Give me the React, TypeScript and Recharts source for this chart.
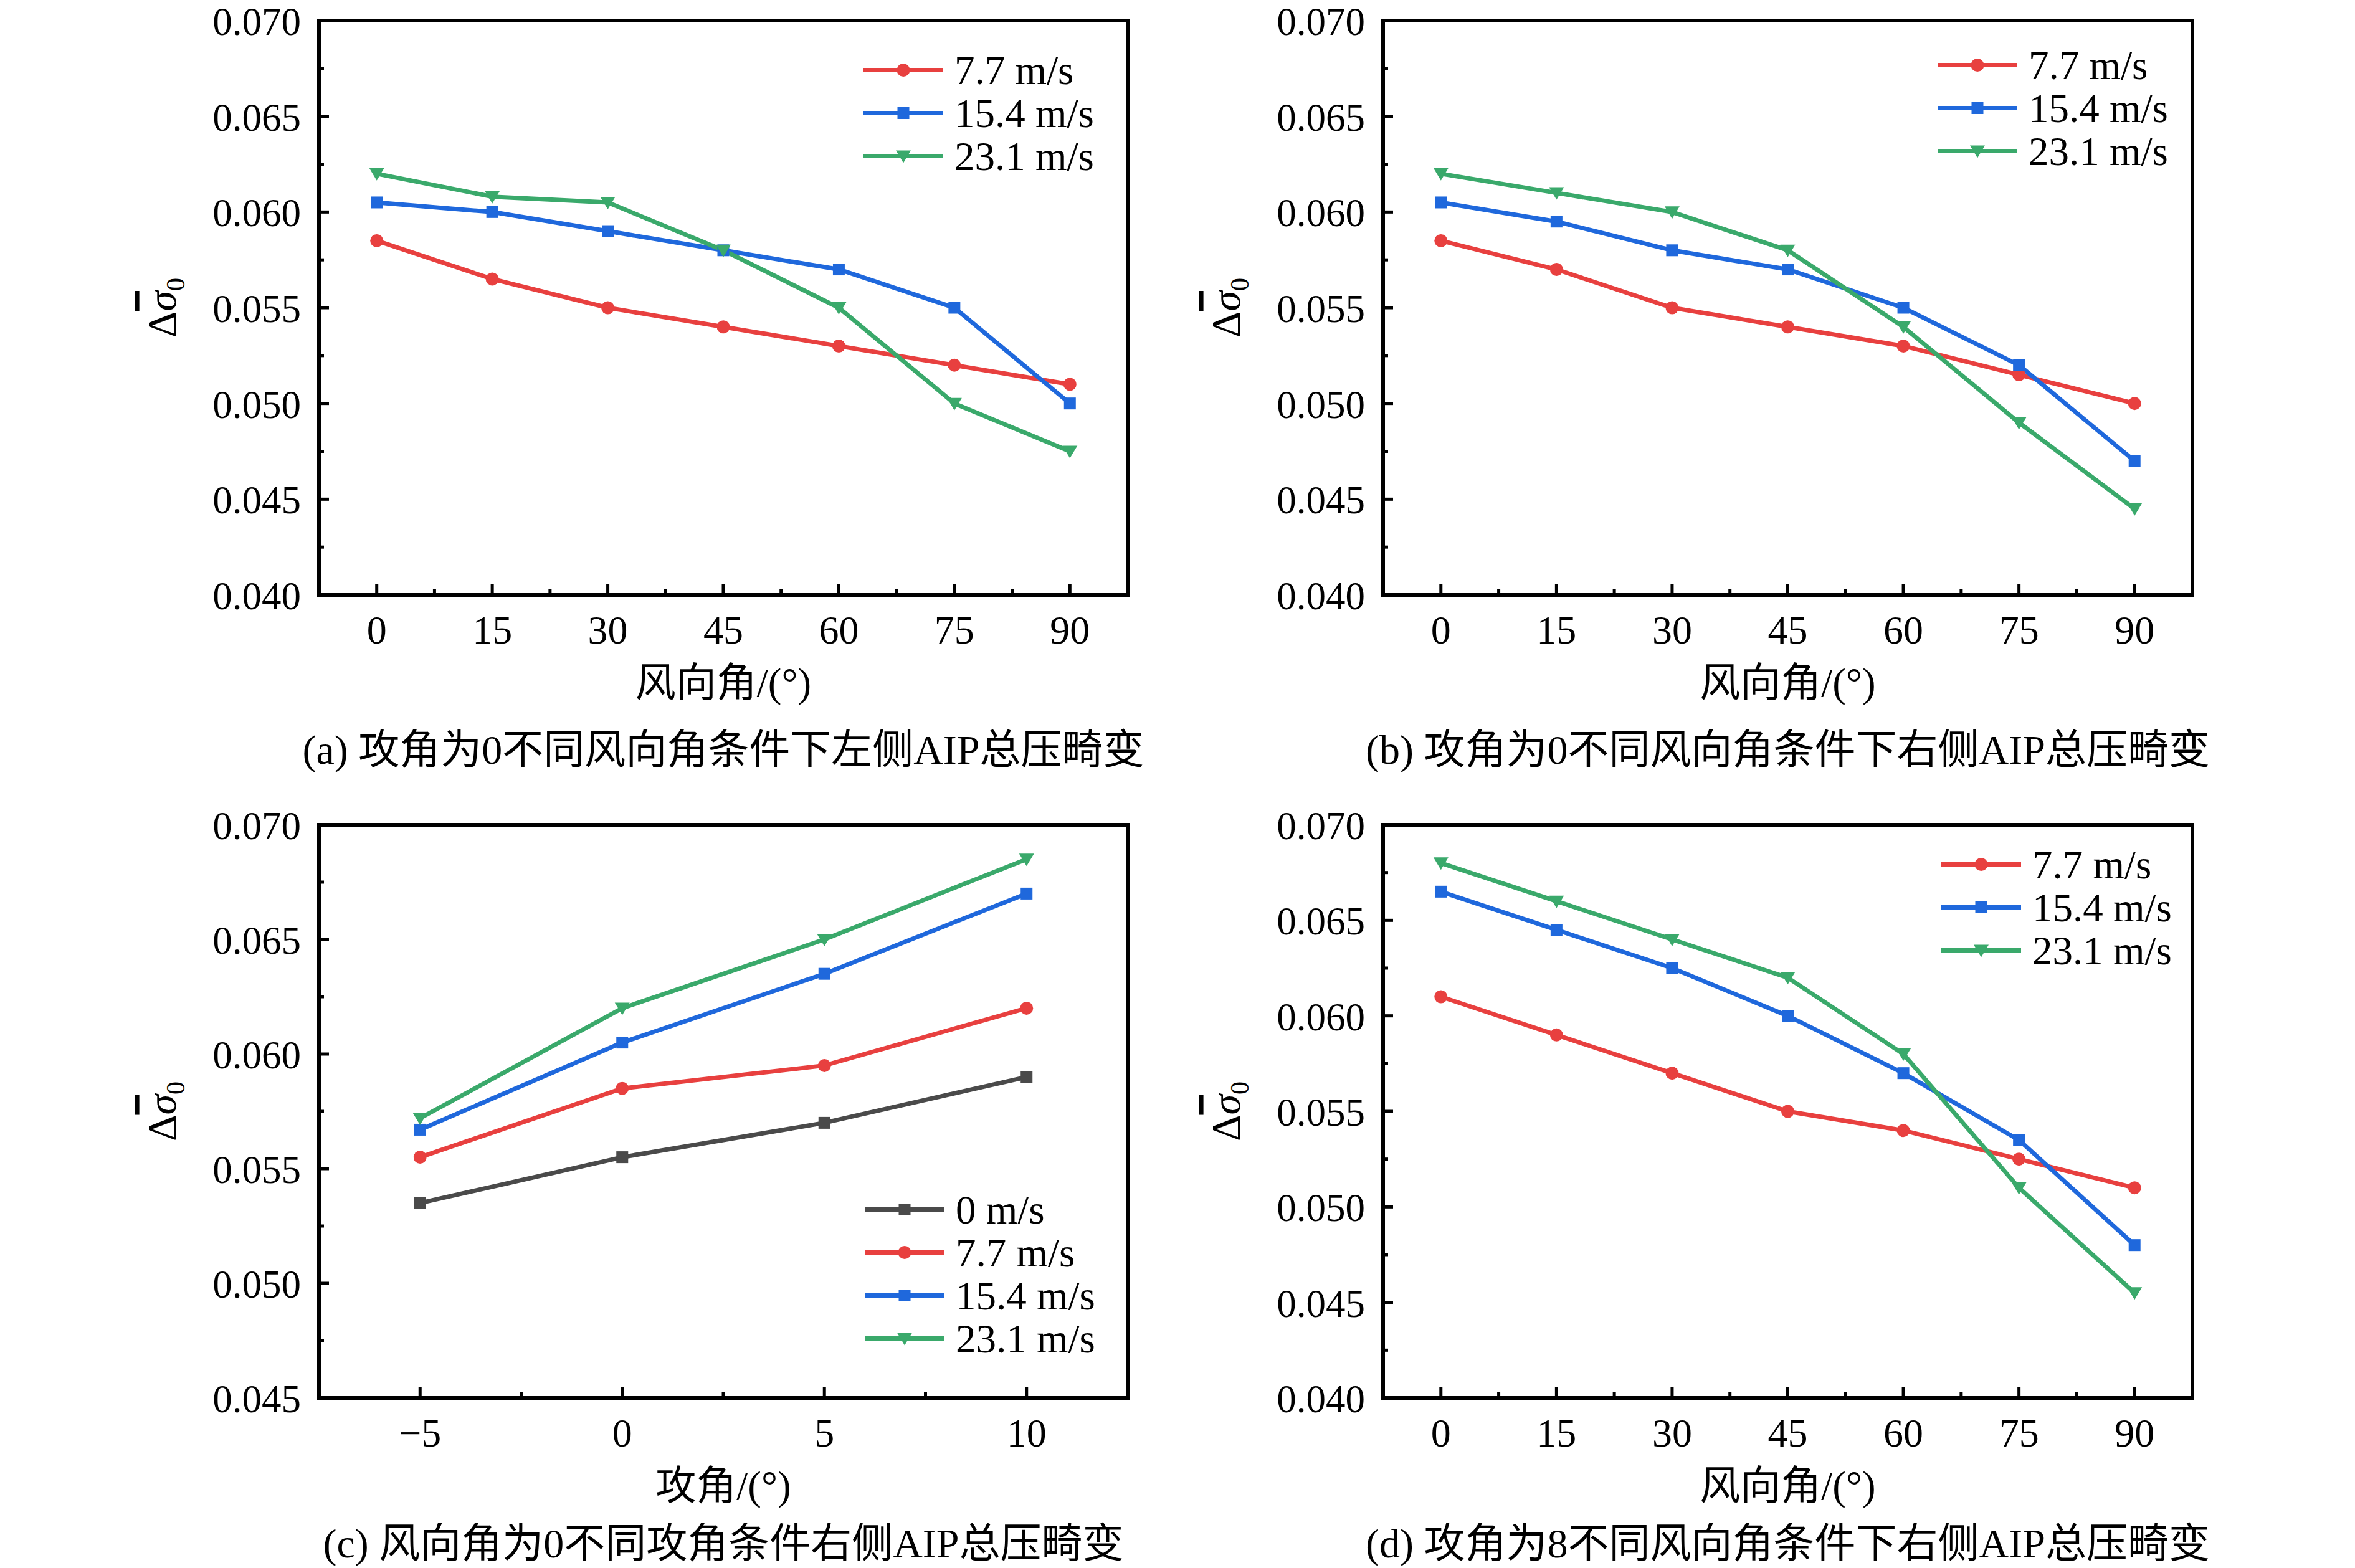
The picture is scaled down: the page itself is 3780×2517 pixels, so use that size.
import React from "react";
import { LineChart, Line, XAxis, YAxis, ReferenceArea, Legend } from "recharts";

// x categories
const windAngles = [0, 15, 30, 45, 60, 75, 90];
const attackAngles = [-5, 0, 5, 10];

// (a) attack angle 0, left AIP
const aV77 = [0.0585, 0.0565, 0.055, 0.054, 0.053, 0.052, 0.051];
const aV154 = [0.0605, 0.06, 0.059, 0.058, 0.057, 0.055, 0.05];
const aV231 = [0.062, 0.0608, 0.0605, 0.058, 0.055, 0.05, 0.0475];

// (b) attack angle 0, right AIP
const bV77 = [0.0585, 0.057, 0.055, 0.054, 0.053, 0.0515, 0.05];
const bV154 = [0.0605, 0.0595, 0.058, 0.057, 0.055, 0.052, 0.047];
const bV231 = [0.062, 0.061, 0.06, 0.058, 0.054, 0.049, 0.0445];

// (c) wind angle 0, right AIP, vs attack angle
const cV0 = [0.0535, 0.0555, 0.057, 0.059];
const cV77 = [0.0555, 0.0585, 0.0595, 0.062];
const cV154 = [0.0567, 0.0605, 0.0635, 0.067];
const cV231 = [0.0572, 0.062, 0.065, 0.0685];

// (d) attack angle 8, right AIP
const dV77 = [0.061, 0.059, 0.057, 0.055, 0.054, 0.0525, 0.051];
const dV154 = [0.0665, 0.0645, 0.0625, 0.06, 0.057, 0.0535, 0.048];
const dV231 = [0.068, 0.066, 0.064, 0.062, 0.058, 0.051, 0.0455];

// ticks
const windMajor = [0, 15, 30, 45, 60, 75, 90];
const windMinor = [7.5, 22.5, 37.5, 52.5, 67.5, 82.5];
const attackMajor = [-5, 0, 5, 10];
const attackMinor = [-2.5, 2.5, 7.5];
const yMajor40 = [0.04, 0.045, 0.05, 0.055, 0.06, 0.065, 0.07];
const yMajor45 = [0.045, 0.05, 0.055, 0.06, 0.065, 0.07];
const yMinor40 = [0.0425, 0.0475, 0.0525, 0.0575, 0.0625, 0.0675];
const yMinor45 = [0.0475, 0.0525, 0.0575, 0.0625, 0.0675];

const seriesNames = ["0 m/s", "7.7 m/s", "15.4 m/s", "23.1 m/s"];

const RED = "#e8403f";
const BLUE = "#1f68dc";
const GREEN = "#3aa96b";
const GRAY = "#4a4a4a";

const FONT = "'Liberation Serif', 'Times New Roman', 'Noto Sans CJK SC', serif";
const Y_AXIS_W = 100;
const X_AXIS_H = 100;
const Y_TICK_MARGIN = 29;
const X_TICK_MARGIN = 40;
const ROW = 69;
const LINE_W = 7;

type Shape = "circle" | "square" | "triangle";
type Series = { key: string; name: string; color: string; shape: Shape };

const windSeries: Series[] = [
  { key: "s77", name: seriesNames[1], color: RED, shape: "circle" },
  { key: "s154", name: seriesNames[2], color: BLUE, shape: "square" },
  { key: "s231", name: seriesNames[3], color: GREEN, shape: "triangle" },
];
const attackSeries: Series[] = [
  { key: "s0", name: seriesNames[0], color: GRAY, shape: "square" },
  ...windSeries,
];

const windData = (v77: number[], v154: number[], v231: number[]) =>
  windAngles.map((x, i) => ({ x, s77: v77[i], s154: v154[i], s231: v231[i] }));

const dataA = windData(aV77, aV154, aV231);
const dataB = windData(bV77, bV154, bV231);
const dataD = windData(dV77, dV154, dV231);
const dataC = attackAngles.map((x, i) => ({ x, s0: cV0[i], s77: cV77[i], s154: cV154[i], s231: cV231[i] }));

const Marker = ({ shape, cx, cy, color }: { shape: Shape; cx: number; cy: number; color: string }) => {
  if (cx == null || cy == null) return null;
  if (shape === "circle") return <circle cx={cx} cy={cy} r={10.5} fill={color} />;
  if (shape === "triangle")
    return <polygon points={`${cx - 12},${cy - 9} ${cx + 12},${cy - 9} ${cx},${cy + 11}`} fill={color} />;
  return <rect x={cx - 9.5} y={cy - 9.5} width={19} height={19} fill={color} />;
};

const isIn = (arr: number[], v: number) => arr.some((m) => Math.abs(m - v) < 1e-9);

const fmtX = (v: number) => (v < 0 ? "\u2212" + Math.abs(v) : String(v));

type PanelProps = {
  box: { x: number; y: number; w: number; h: number };
  plot: { l: number; r: number; t: number; b: number };
  data: any[];
  series: Series[];
  xDomain: [number, number];
  xMajor: number[];
  xMinor: number[];
  yDomain: [number, number];
  yMajor: number[];
  yMinor: number[];
  xTitle: string;
  caption: string;
  captionGap: number;
  legendX: number;
  legendY: number;
};

function Panel(p: PanelProps) {
  const { box, plot } = p;
  const margin = {
    left: plot.l - box.x - Y_AXIS_W,
    top: plot.t - box.y,
    right: box.x + box.w - plot.r,
    bottom: box.y + box.h - plot.b - X_AXIS_H,
  };
  const midX = (plot.l + plot.r) / 2 - box.x;
  const midY = (plot.t + plot.b) / 2 - box.y;
  const bottomY = plot.b - box.y;
  const leftX = plot.l - box.x;

  const XTick = (t: any) => {
    const v = t.payload.value;
    const axisY = t.y - X_TICK_MARGIN;
    const major = isIn(p.xMajor, v);
    return (
      <g>
        <line x1={t.x} x2={t.x} y1={axisY} y2={axisY - (major ? 18 : 9)} stroke="#000" strokeWidth={5} />
        {major && (
          <text x={t.x} y={axisY + 56} textAnchor="middle" dominantBaseline="central" fontSize={64} fontFamily={FONT} fill="#000">
            {fmtX(v)}
          </text>
        )}
      </g>
    );
  };

  const YTick = (t: any) => {
    const v = t.payload.value;
    const axisX = t.x + Y_TICK_MARGIN;
    const major = isIn(p.yMajor, v);
    return (
      <g>
        <line x1={axisX} x2={axisX + (major ? 16 : 8)} y1={t.y} y2={t.y} stroke="#000" strokeWidth={5} />
        {major && (
          <text x={t.x} y={t.y + 23} textAnchor="end" fontSize={63} fontFamily={FONT} fill="#000">
            {v.toFixed(3)}
          </text>
        )}
      </g>
    );
  };

  const legendContent = () => (
    <svg width={440} height={p.series.length * ROW} style={{ display: "block", overflow: "visible" }}>
      {p.series.map((s, i) => {
        const y = ROW / 2 + i * ROW;
        return (
          <g key={s.key}>
            <line x1={0} x2={128} y1={y} y2={y} stroke={s.color} strokeWidth={LINE_W} />
            <Marker shape={s.shape} cx={64} cy={y} color={s.color} />
            <text x={146} y={y} dominantBaseline="central" fontSize={65} fontFamily={FONT} fill="#000">
              {s.name}
            </text>
          </g>
        );
      })}
    </svg>
  );

  return (
    <div style={{ position: "absolute", left: box.x, top: box.y, width: box.w, height: box.h }}>
      <LineChart width={box.w} height={box.h} data={p.data} margin={margin}>
        <XAxis
          type="number"
          dataKey="x"
          domain={p.xDomain}
          ticks={[...p.xMajor, ...p.xMinor]}
          interval={0}
          height={X_AXIS_H}
          axisLine={false}
          tickLine={false}
          tickSize={0}
          tickMargin={X_TICK_MARGIN}
          tick={XTick}
        />
        <YAxis
          type="number"
          domain={p.yDomain}
          ticks={[...p.yMajor, ...p.yMinor]}
          interval={0}
          width={Y_AXIS_W}
          axisLine={false}
          tickLine={false}
          tickSize={0}
          tickMargin={Y_TICK_MARGIN}
          tick={YTick}
        />
        <ReferenceArea
          x1={p.xDomain[0]}
          x2={p.xDomain[1]}
          y1={p.yDomain[0]}
          y2={p.yDomain[1]}
          fill="none"
          fillOpacity={0}
          stroke="#000"
          strokeWidth={6}
          ifOverflow="visible"
        />
        {p.series.map((s) => (
          <Line
            key={s.key}
            type="linear"
            dataKey={s.key}
            name={s.name}
            stroke={s.color}
            strokeWidth={LINE_W}
            isAnimationActive={false}
            dot={(d: any) => <Marker key={`${s.key}-${d.index}`} shape={s.shape} cx={d.cx} cy={d.cy} color={s.color} />}
            activeDot={false}
          />
        ))}
        <Legend
          layout="vertical"
          align="center"
          verticalAlign="middle"
          content={legendContent}
          wrapperStyle={{ left: p.legendX - box.x, top: p.legendY - box.y - ROW / 2, width: 440 }}
        />
      </LineChart>
      <svg width={box.w} height={box.h} style={{ position: "absolute", left: 0, top: 0, pointerEvents: "none" }}>
        <text
          x={leftX - 230}
          y={midY}
          transform={`rotate(-90 ${leftX - 230} ${midY})`}
          textAnchor="middle"
          fontSize={66}
          fontFamily={FONT}
          fill="#000"
        >
          <tspan>Δ</tspan>
          <tspan fontStyle="italic" style={{ textDecoration: "overline" }}>σ</tspan>
          <tspan fontSize={42} dy={14}>0</tspan>
        </text>
        <text x={midX} y={bottomY + 141} textAnchor="middle" dominantBaseline="central" fontSize={65} fontFamily={FONT} fill="#000">
          {p.xTitle}
        </text>
        <text x={midX} y={bottomY + p.captionGap} textAnchor="middle" dominantBaseline="central" fontSize={66} fontFamily={FONT} fill="#000">
          {p.caption}
        </text>
      </svg>
    </div>
  );
}

export default function App() {
  const topBox = { y: 0, h: 1260 };
  const botBox = { y: 1260, h: 1257 };
  return (
    <div style={{ position: "absolute", left: 0, top: 0, width: 3780, height: 2517, background: "#fff", overflow: "hidden" }}>
      <Panel
        box={{ x: 0, y: topBox.y, w: 1890, h: topBox.h }}
        plot={{ l: 512, r: 1810, t: 33, b: 955 }}
        data={dataA}
        series={windSeries}
        xDomain={[-7.5, 97.5]}
        xMajor={windMajor}
        xMinor={windMinor}
        yDomain={[0.04, 0.07]}
        yMajor={yMajor40}
        yMinor={yMinor40}
        xTitle="风向角/(°)"
        caption="(a) 攻角为0不同风向角条件下左侧AIP总压畸变"
        captionGap={248}
        legendX={1386}
        legendY={112}
      />
      <Panel
        box={{ x: 1890, y: topBox.y, w: 1890, h: topBox.h }}
        plot={{ l: 2220, r: 3519, t: 33, b: 955 }}
        data={dataB}
        series={windSeries}
        xDomain={[-7.5, 97.5]}
        xMajor={windMajor}
        xMinor={windMinor}
        yDomain={[0.04, 0.07]}
        yMajor={yMajor40}
        yMinor={yMinor40}
        xTitle="风向角/(°)"
        caption="(b) 攻角为0不同风向角条件下右侧AIP总压畸变"
        captionGap={248}
        legendX={3110}
        legendY={104}
      />
      <Panel
        box={{ x: 0, y: botBox.y, w: 1890, h: botBox.h }}
        plot={{ l: 512, r: 1810, t: 1324, b: 2244 }}
        data={dataC}
        series={attackSeries}
        xDomain={[-7.5, 12.5]}
        xMajor={attackMajor}
        xMinor={attackMinor}
        yDomain={[0.045, 0.07]}
        yMajor={yMajor45}
        yMinor={yMinor45}
        xTitle="攻角/(°)"
        caption="(c) 风向角为0不同攻角条件右侧AIP总压畸变"
        captionGap={233}
        legendX={1388}
        legendY={1941}
      />
      <Panel
        box={{ x: 1890, y: botBox.y, w: 1890, h: botBox.h }}
        plot={{ l: 2220, r: 3519, t: 1324, b: 2244 }}
        data={dataD}
        series={windSeries}
        xDomain={[-7.5, 97.5]}
        xMajor={windMajor}
        xMinor={windMinor}
        yDomain={[0.04, 0.07]}
        yMajor={yMajor40}
        yMinor={yMinor40}
        xTitle="风向角/(°)"
        caption="(d) 攻角为8不同风向角条件下右侧AIP总压畸变"
        captionGap={233}
        legendX={3116}
        legendY={1387}
      />
    </div>
  );
}
